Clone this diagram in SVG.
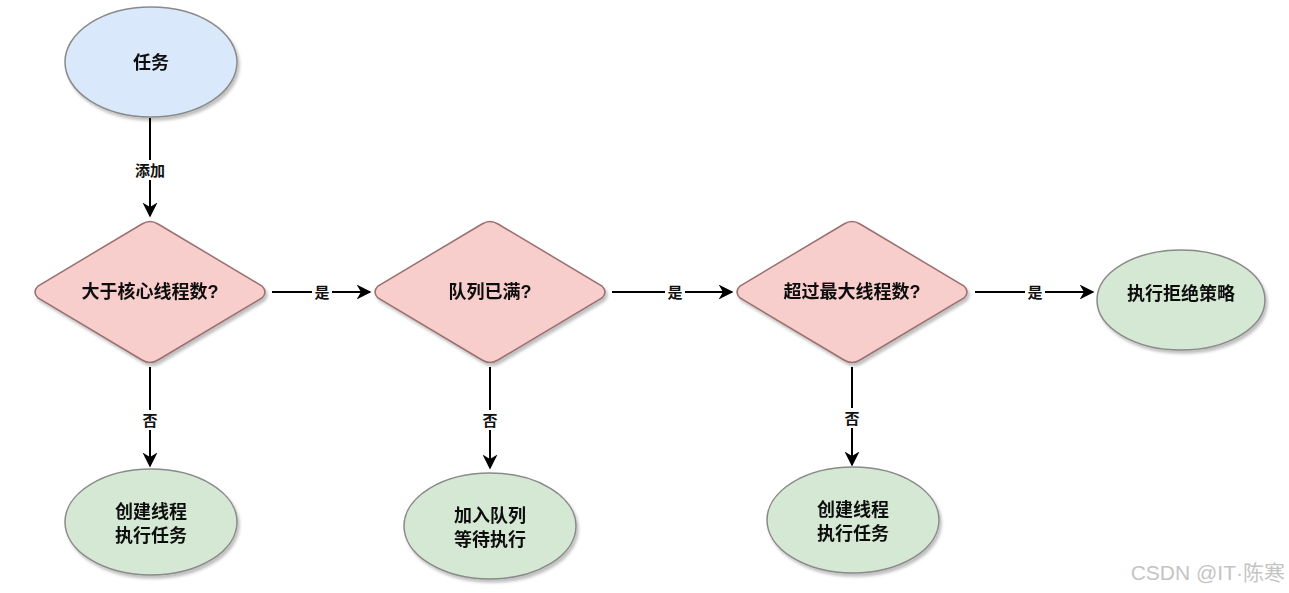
<svg xmlns="http://www.w3.org/2000/svg" width="1289" height="593" viewBox="0 0 1289 593">
<defs>
<marker id="arr" viewBox="0 0 10 10" refX="9" refY="5" markerWidth="15" markerHeight="15" markerUnits="userSpaceOnUse" orient="auto"><path d="M0,0 L10,5 L0,10 L3,5 Z" fill="#000"/></marker>
<filter id="sh" x="-10%" y="-10%" width="125%" height="125%"><feDropShadow dx="2" dy="3" stdDeviation="1.5" flood-color="#000" flood-opacity="0.25"/></filter>
</defs>
<style>
.blue{fill:#dae8fc;stroke:#8a8a8a;stroke-width:1.5}
.green{fill:#d5e8d4;stroke:#8a8a8a;stroke-width:1.5}
.pink{fill:#f8cecc;stroke:#9a7070;stroke-width:1.5}
.t{font-family:"Liberation Sans","Noto Sans CJK SC",sans-serif;font-weight:bold;font-size:18px;fill:#111;text-anchor:middle}
.lbl{font-family:"Liberation Sans","Noto Sans CJK SC",sans-serif;font-weight:bold;font-size:15px;fill:#111;text-anchor:middle}
.e{stroke:#000;stroke-width:2;fill:none;marker-end:url(#arr)}
.wm{font-family:"Liberation Sans","Noto Sans CJK SC",sans-serif;font-size:21px;fill:#c4c4c4;text-anchor:end}
</style>
<rect width="1289" height="593" fill="#fff"/>
<g id="connectors">
<path class="e" d="M150,118 V216"/>
<rect x="129" y="160" width="42" height="20" fill="#fff"/>
<text class="lbl" x="150" y="176">添加</text>
<path class="e" d="M272,292 H370"/>
<rect x="312" y="282" width="20" height="20" fill="#fff"/>
<text class="lbl" x="322" y="298">是</text>
<path class="e" d="M612,292 H732"/>
<rect x="665" y="282" width="20" height="20" fill="#fff"/>
<text class="lbl" x="675" y="298">是</text>
<path class="e" d="M975,292 H1093"/>
<rect x="1025" y="282" width="20" height="20" fill="#fff"/>
<text class="lbl" x="1035" y="298">是</text>
<path class="e" d="M150,367 V466"/>
<rect x="140" y="410" width="20" height="20" fill="#fff"/>
<text class="lbl" x="150" y="426">否</text>
<path class="e" d="M490,367 V468"/>
<rect x="480" y="410" width="20" height="20" fill="#fff"/>
<text class="lbl" x="490" y="426">否</text>
<path class="e" d="M852,367 V465"/>
<rect x="842" y="408" width="20" height="20" fill="#fff"/>
<text class="lbl" x="852" y="424">否</text>
</g>
<g id="task" filter="url(#sh)">
<ellipse class="blue" cx="151" cy="62" rx="86" ry="55"/>
<text class="t" x="151" y="69">任务</text>
</g>
<g id="d1" filter="url(#sh)">
<path class="pink" d="M142,224 Q150,219 158,224 L262,286 Q268,292 262,298 L158,360 Q150,365 142,360 L38,298 Q32,292 38,286 Z"/>
<text class="t" x="150" y="298">大于核心线程数?</text>
</g>
<g id="d2" filter="url(#sh)">
<path class="pink" d="M482,224 Q490,219 498,224 L602,286 Q608,292 602,298 L498,360 Q490,365 482,360 L378,298 Q372,292 378,286 Z"/>
<text class="t" x="490" y="298">队列已满?</text>
</g>
<g id="d3" filter="url(#sh)">
<path class="pink" d="M844,224 Q852,219 860,224 L964,286 Q970,292 964,298 L860,360 Q852,365 844,360 L740,298 Q734,292 740,286 Z"/>
<text class="t" x="852" y="298">超过最大线程数?</text>
</g>
<g id="reject" filter="url(#sh)">
<ellipse class="green" cx="1181" cy="300" rx="84" ry="50"/>
<text class="t" x="1181" y="300">执行拒绝策略</text>
</g>
<g id="create1" filter="url(#sh)">
<ellipse class="green" cx="151" cy="522" rx="86" ry="53"/>
<text class="t" x="151" y="518">创建线程</text>
<text class="t" x="151" y="542">执行任务</text>
</g>
<g id="queue" filter="url(#sh)">
<ellipse class="green" cx="490" cy="526" rx="86" ry="53"/>
<text class="t" x="490" y="522">加入队列</text>
<text class="t" x="490" y="546">等待执行</text>
</g>
<g id="create2" filter="url(#sh)">
<ellipse class="green" cx="853" cy="520" rx="86" ry="53"/>
<text class="t" x="853" y="516">创建线程</text>
<text class="t" x="853" y="540">执行任务</text>
</g>
<text class="wm" x="1285" y="580">CSDN @IT·陈寒</text>
</svg>
